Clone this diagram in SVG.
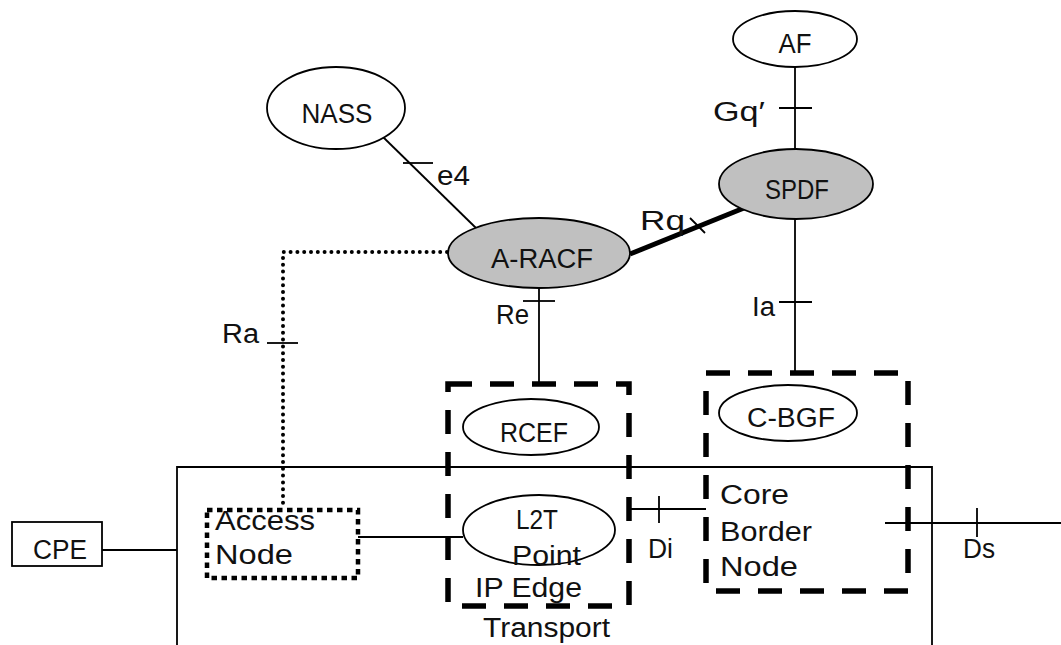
<svg xmlns="http://www.w3.org/2000/svg" width="1061" height="645" viewBox="0 0 1061 645">
<style>
.t{font-family:"Liberation Sans",Arial,sans-serif;font-size:27px;fill:#111;}
.c{text-anchor:middle;}
.ln{stroke:#000;stroke-width:1.8;fill:none;}
.el{stroke:#000;stroke-width:1.8;fill:#fff;}
.gr{fill:#c0c0c0;}
.dash{stroke:#000;stroke-width:5.5;fill:none;stroke-dasharray:24 18;}
.dot{stroke:#000;stroke-width:4;fill:none;stroke-dasharray:0 6.8;stroke-linecap:round;}
.sq{stroke:#000;stroke-width:4.5;fill:none;stroke-dasharray:5.5 4.5;}
</style>
<rect width="1061" height="645" fill="#fff"/>
<g id="connectors">
<line class="ln" x1="383" y1="137" x2="476" y2="228"/>
<line class="ln" x1="403" y1="163" x2="433" y2="163"/>
<line class="ln" x1="795" y1="67" x2="795" y2="149"/>
<line class="ln" x1="779" y1="108" x2="812" y2="108"/>
<line x1="630" y1="254" x2="744" y2="208" stroke="#000" stroke-width="5"/>
<line class="ln" x1="690" y1="218" x2="705" y2="233"/>
<line class="ln" x1="795" y1="219" x2="795" y2="372"/>
<line class="ln" x1="779" y1="302" x2="812" y2="302"/>
<line class="ln" x1="539" y1="288" x2="539" y2="384"/>
<line class="ln" x1="523" y1="301" x2="555" y2="301"/>
<polyline class="dot" points="447,252 283,252 283,508"/>
<line class="ln" x1="267" y1="343" x2="298" y2="343"/>
<line class="ln" x1="102" y1="550" x2="177" y2="550"/>
<line class="ln" x1="358" y1="537" x2="463" y2="537"/>
<line class="ln" x1="630" y1="509" x2="706" y2="509"/>
<line class="ln" x1="659" y1="496" x2="659" y2="523"/>
<line class="ln" x1="885" y1="523" x2="1061" y2="523"/>
<line class="ln" x1="977" y1="508" x2="977" y2="537"/>
</g>
<g id="transport">
<polyline class="ln" points="177,645 177,467 932,467 932,645"/>
<text class="t" x="483" y="637" textLength="127" lengthAdjust="spacingAndGlyphs">Transport</text>
</g>
<g id="nass">
<ellipse class="el" cx="336" cy="108" rx="69" ry="41"/>
<text class="t c" x="337" y="123" textLength="71" lengthAdjust="spacingAndGlyphs">NASS</text>
</g>
<g id="af">
<ellipse class="el" cx="795" cy="39" rx="62" ry="28"/>
<text class="t c" x="795" y="53" textLength="33" lengthAdjust="spacingAndGlyphs">AF</text>
</g>
<g id="spdf">
<ellipse class="el gr" cx="796" cy="184" rx="77" ry="35"/>
<text class="t c" x="797" y="199" textLength="64" lengthAdjust="spacingAndGlyphs">SPDF</text>
</g>
<g id="aracf">
<ellipse class="el gr" cx="539" cy="253" rx="91" ry="35"/>
<text class="t c" x="542" y="268" textLength="102" lengthAdjust="spacingAndGlyphs">A-RACF</text>
</g>
<g id="rcef-box">
<rect class="dash" x="448" y="384" width="181" height="222"/>
<ellipse class="el" cx="531" cy="427" rx="68" ry="28"/>
<text class="t c" x="534" y="442" textLength="68" lengthAdjust="spacingAndGlyphs">RCEF</text>
</g>
<g id="cbgf-box">
<rect class="dash" x="706" y="373" width="202" height="218"/>
<ellipse class="el" cx="788" cy="413" rx="69" ry="28"/>
<text class="t c" x="791" y="427" textLength="88" lengthAdjust="spacingAndGlyphs">C-BGF</text>
</g>
<g id="l2t">
<ellipse class="el" cx="539" cy="530" rx="76" ry="35"/>
<text class="t" x="516" y="529" textLength="42" lengthAdjust="spacingAndGlyphs">L2T</text>
<text class="t" x="512" y="565" textLength="69" lengthAdjust="spacingAndGlyphs">Point</text>
<text class="t" x="475" y="597" textLength="107" lengthAdjust="spacingAndGlyphs">IP Edge</text>
</g>
<g id="core-border-node">
<text class="t" x="720" y="504" textLength="69" lengthAdjust="spacingAndGlyphs">Core</text>
<text class="t" x="720" y="541" textLength="92" lengthAdjust="spacingAndGlyphs">Border</text>
<text class="t" x="720" y="576" textLength="78" lengthAdjust="spacingAndGlyphs">Node</text>
</g>
<g id="access-node">
<rect class="sq" x="207" y="510" width="151" height="68"/>
<text class="t" x="215" y="530" textLength="100" lengthAdjust="spacingAndGlyphs">Access</text>
<text class="t" x="215" y="564" textLength="78" lengthAdjust="spacingAndGlyphs">Node</text>
</g>
<g id="cpe">
<rect class="ln" x="12" y="522" width="90" height="44"/>
<text class="t" x="33" y="559" textLength="54" lengthAdjust="spacingAndGlyphs">CPE</text>
</g>
<g id="labels">
<text class="t" x="437" y="185" textLength="33" lengthAdjust="spacingAndGlyphs">e4</text>
<text class="t" x="713" y="121" textLength="52" lengthAdjust="spacingAndGlyphs">Gq′</text>
<text class="t" x="640" y="230" textLength="45" lengthAdjust="spacingAndGlyphs">Rq</text>
<text class="t" x="752" y="316" textLength="23" lengthAdjust="spacingAndGlyphs">Ia</text>
<text class="t" x="496" y="324" textLength="33" lengthAdjust="spacingAndGlyphs">Re</text>
<text class="t" x="222" y="343" textLength="37" lengthAdjust="spacingAndGlyphs">Ra</text>
<text class="t" x="648" y="558" textLength="25" lengthAdjust="spacingAndGlyphs">Di</text>
<text class="t" x="963" y="558" textLength="32" lengthAdjust="spacingAndGlyphs">Ds</text>
</g>
</svg>
